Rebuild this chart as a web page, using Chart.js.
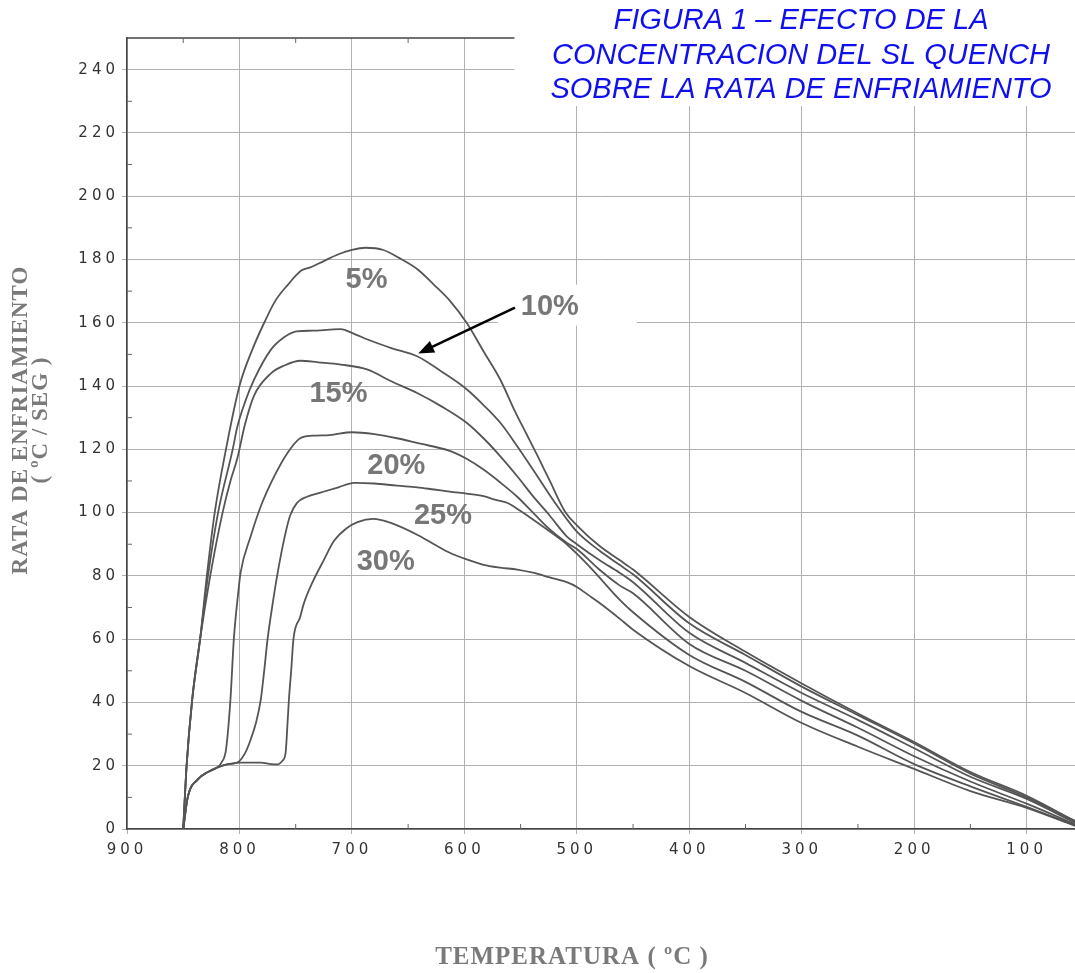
<!DOCTYPE html>
<html>
<head>
<meta charset="utf-8">
<script src="https://cdn.jsdelivr.net/npm/chart.js@4.4.0/dist/chart.umd.min.js"></script>
<style>
  html, body { margin: 0; padding: 0; background: #fff; }
  #wrap { position: relative; width: 1075px; height: 973px; }
</style>
</head>
<body>
<div id="wrap"><canvas id="chart"></canvas></div>
<script>
// [temperatura ºC, rata ºC/seg]
const curve5 = [[850,0],[847,20],[842,41],[835,60],[829,80],[822,100],[812,120],[800,140],[788,152],[778,160],[768,167],[757,172],[745,176.5],[737,177.5],[725,179.5],[713,181.5],[700,183],[688,183.7],[672,183],[658,180.5],[642,177],[627,172],[613,167],[598,160],[583,151],[568,142],[555,132],[545,125],[535,118],[524,110],[510,100],[500,96],[480,89.5],[462,85],[450,82],[400,67],[350,56],[300,46],[250,36.5],[200,27.5],[150,18],[100,10.5],[57,2.5]];
const curve10 = [[850,0],[847,20],[842,41],[835,60],[828,80],[819,100],[806,120],[802,127],[795,135],[787,142],[772,151.5],[760,155.5],[749,157.3],[735,157.5],[720,157.8],[710,158],[698,156.5],[686,154.7],[665,152],[642,149.4],[620,144.5],[598,139],[583,134],[568,128.4],[553,121],[539,113.6],[524,105.5],[509,98],[500,94],[480,88],[462,83.5],[450,80.5],[400,65],[350,55],[300,45],[250,36],[200,27],[150,17.5],[100,10],[57,2.5]];
const curve15 = [[850,0],[847,20],[842,41],[835,60],[826,80],[815,100],[808,110],[802,117],[795,128],[787,137],[772,144],[760,146.5],[746,148],[730,147.5],[710,146.8],[686,145.2],[665,141.5],[642,137.8],[620,133.5],[598,128.4],[583,123.5],[568,117.8],[553,111.5],[539,105.2],[524,99],[509,92.5],[500,90],[480,85],[462,81],[450,78],[400,62],[350,52.5],[300,43],[250,34.5],[200,25.5],[150,16.5],[100,9.5],[57,2]];
const curve20 = [[850,0],[846,10],[837,15.7],[828,18],[820,19.4],[816,21],[812,25],[808,41],[805,60],[801,75],[799,81],[790,92.5],[781,102],[769,111.5],[757,119],[746,123.5],[735,124.3],[720,124.5],[700,125.4],[680,124.8],[660,123.5],[642,122],[613,119.5],[598,117],[583,113.6],[568,109.5],[553,105],[539,100],[524,94.7],[509,90.5],[500,88.5],[480,82],[462,77],[450,74.5],[400,58.5],[350,50],[300,40.5],[250,32],[200,23],[150,15],[100,8],[57,1.5]];
const curve25 = [[850,0],[846,10],[837,15.7],[828,18],[820,19.4],[810,20.5],[802,21],[795,24],[790,28.3],[785,34],[781,41],[778,50],[775,60],[771,70],[766,81],[760,92],[755,99],[749,103],[740,105],[728,106.3],[712,108],[698,109.4],[680,109.2],[660,108.5],[642,108],[627,107.3],[610,106.5],[598,106],[583,105.2],[572,104],[562,103.1],[550,100.5],[539,97.8],[524,94],[509,90],[500,87],[485,81.5],[462,72.5],[450,68.5],[400,55],[350,46.5],[300,37],[250,29.5],[200,20.5],[150,13.5],[100,7],[57,1.2]];
const curve30 = [[850,0],[846,10],[837,15.7],[828,18],[820,19.4],[810,20.5],[800,21],[790,21],[781,21],[772,20.5],[766,20.4],[762,21.5],[759,24],[757,35],[756,41],[754,50],[752,60],[746,67],[743,71],[735,78],[725,85],[716,91],[705,95],[695,97],[681,98],[666,96.8],[642,93],[627,90],[613,87.3],[598,85.2],[583,83.5],[568,82.6],[553,82],[539,81],[524,79.5],[509,78],[500,76.5],[490,74],[480,71.5],[462,66.5],[450,63],[400,51.5],[350,43],[300,33.5],[250,26],[200,19],[150,12],[100,6.7],[57,1]];

const seriesNames = ['5%', '10%', '15%', '20%', '25%', '30%'];
const seriesCurves = [curve5, curve10, curve15, curve20, curve25, curve30];

// curve labels, placed in data units [temperatura, rata]
const labelPos = [[687,173.6],[524,165.1],[712,137.6],[660.5,114.6],[619,98.8],[670,84.5]];
const arrowFrom = [555, 164.8];
const arrowTo = [641, 150.3];

const titleLines = ['FIGURA 1 – EFECTO DE LA', 'CONCENTRACION DEL SL QUENCH', 'SOBRE LA RATA DE ENFRIAMIENTO'];
const yTitleLines = ['RATA DE ENFRIAMIENTO', '( ºC / SEG )'];
const xTitle = 'TEMPERATURA ( ºC )';

const X_MIN = 57, X_MAX = 900, Y_MAX = 250;

const decor = {
    id: 'decor',
    beforeDraw(chart) {
        chart.ctx.letterSpacing = '4px';
    },
    beforeDatasetsDraw(chart) {
        const { ctx, chartArea: a, scales: { x, y } } = chart;
        ctx.letterSpacing = '0px';
        ctx.save();
        ctx.strokeStyle = '#444';
        ctx.lineWidth = 1.5;
        ctx.beginPath();
        ctx.moveTo(a.left, a.top);
        ctx.lineTo(a.right, a.top);
        ctx.stroke();
        // small inner ticks
        ctx.lineWidth = 1;
        ctx.strokeStyle = '#666';
        ctx.beginPath();
        for (let t = 850; t > X_MIN; t -= 100) {
            const px = x.getPixelForValue(t);
            ctx.moveTo(px, a.bottom); ctx.lineTo(px, a.bottom - 5);
            ctx.moveTo(px, a.top); ctx.lineTo(px, a.top + 5);
        }
        for (let r = 10; r < Y_MAX; r += 20) {
            const py = y.getPixelForValue(r);
            ctx.moveTo(a.left, py); ctx.lineTo(a.left + 5, py);
        }
        ctx.stroke();
        ctx.restore();
    },
    afterDraw(chart) {
        const { ctx, scales: { x, y } } = chart;
        ctx.save();
        ctx.letterSpacing = '0px';

        // "10%" sits on a white patch
        ctx.font = 'bold 29px "Liberation Sans", Arial, sans-serif';
        ctx.textAlign = 'center';
        ctx.textBaseline = 'middle';
        const p10x = x.getPixelForValue(labelPos[1][0]);
        const p10y = y.getPixelForValue(labelPos[1][1]);
        ctx.fillStyle = '#fff';
        ctx.fillRect(p10x - 52, p10y - 22, 139, 41);

        ctx.fillStyle = '#777';
        seriesNames.forEach((name, i) => {
            ctx.fillText(name, x.getPixelForValue(labelPos[i][0]), y.getPixelForValue(labelPos[i][1]));
        });

        // arrow to the 10% curve
        const ax0 = x.getPixelForValue(arrowFrom[0]), ay0 = y.getPixelForValue(arrowFrom[1]);
        const ax1 = x.getPixelForValue(arrowTo[0]), ay1 = y.getPixelForValue(arrowTo[1]);
        const ang = Math.atan2(ay1 - ay0, ax1 - ax0);
        const head = 17;
        ctx.strokeStyle = '#000';
        ctx.fillStyle = '#000';
        ctx.lineWidth = 2.5;
        ctx.beginPath();
        ctx.moveTo(ax0, ay0);
        ctx.lineTo(ax1 - Math.cos(ang) * head * 0.8, ay1 - Math.sin(ang) * head * 0.8);
        ctx.stroke();
        ctx.beginPath();
        ctx.moveTo(ax1, ay1);
        ctx.lineTo(ax1 - head * Math.cos(ang - 0.38), ay1 - head * Math.sin(ang - 0.38));
        ctx.lineTo(ax1 - head * Math.cos(ang + 0.38), ay1 - head * Math.sin(ang + 0.38));
        ctx.closePath();
        ctx.fill();

        // figure title on a white box
        ctx.font = 'italic 29px "Liberation Sans", Arial, sans-serif';
        const cx = 801, lineH = 34.5, firstY = 21;
        let w = 0;
        titleLines.forEach(t => { w = Math.max(w, ctx.measureText(t).width); });
        ctx.fillStyle = '#fff';
        ctx.fillRect(cx - w / 2 - 36, 0, chart.width, firstY + lineH * 2 + 16);
        ctx.fillStyle = '#1010ee';
        titleLines.forEach((t, i) => ctx.fillText(t, cx, firstY + i * lineH));

        // axis titles
        ctx.fillStyle = '#7a7a7a';
        ctx.letterSpacing = '1px';
        ctx.font = 'bold 25px "Liberation Serif", "Times New Roman", serif';
        ctx.fillText(xTitle, 572, 958);
        ctx.font = 'bold 23px "Liberation Serif", "Times New Roman", serif';
        ctx.save();
        ctx.translate(21, 420);
        ctx.rotate(-Math.PI / 2);
        ctx.fillText(yTitleLines[0], 0, 0);
        ctx.fillText(yTitleLines[1], 0, 20);
        ctx.restore();

        ctx.restore();
    }
};

const datasets = seriesCurves.map((c, i) => ({
    label: seriesNames[i],
    data: c.map(([t, r]) => ({ x: t, y: r })),
    borderColor: '#555',
    borderWidth: 1.8,
    pointRadius: 0,
    fill: false,
    cubicInterpolationMode: 'monotone',
}));

const tickFont = { family: 'DejaVu Sans', size: 15 };

new Chart(document.getElementById('chart'), {
    type: 'line',
    data: { datasets },
    options: {
        responsive: true,
        maintainAspectRatio: false,
        animation: false,
        layout: { padding: { top: 38, right: 0, left: 0, bottom: 0 } },
        plugins: { legend: { display: false }, tooltip: { enabled: false } },
        scales: {
            x: {
                type: 'linear',
                reverse: true,
                min: X_MIN,
                max: X_MAX,
                ticks: { stepSize: 100, color: '#333', font: tickFont, padding: 7, maxRotation: 0 },
                afterBuildTicks: (s) => { s.ticks = s.ticks.filter(t => t.value % 100 === 0); },
                afterFit: (s) => { s.height = 144; },
                grid: { color: '#b0b0b0', lineWidth: 1, tickLength: 5 },
                border: { color: '#444', width: 1.5 },
            },
            y: {
                min: 0,
                max: Y_MAX,
                ticks: { stepSize: 20, color: '#333', font: tickFont, padding: 3 },
                afterBuildTicks: (s) => { s.ticks = s.ticks.filter(t => t.value % 20 === 0 && t.value < Y_MAX); },
                afterFit: (s) => { s.width = 127; },
                grid: { color: '#b0b0b0', lineWidth: 1, tickLength: 5 },
                border: { color: '#444', width: 1.5 },
            },
        },
    },
    plugins: [decor],
});
</script>
</body>
</html>
